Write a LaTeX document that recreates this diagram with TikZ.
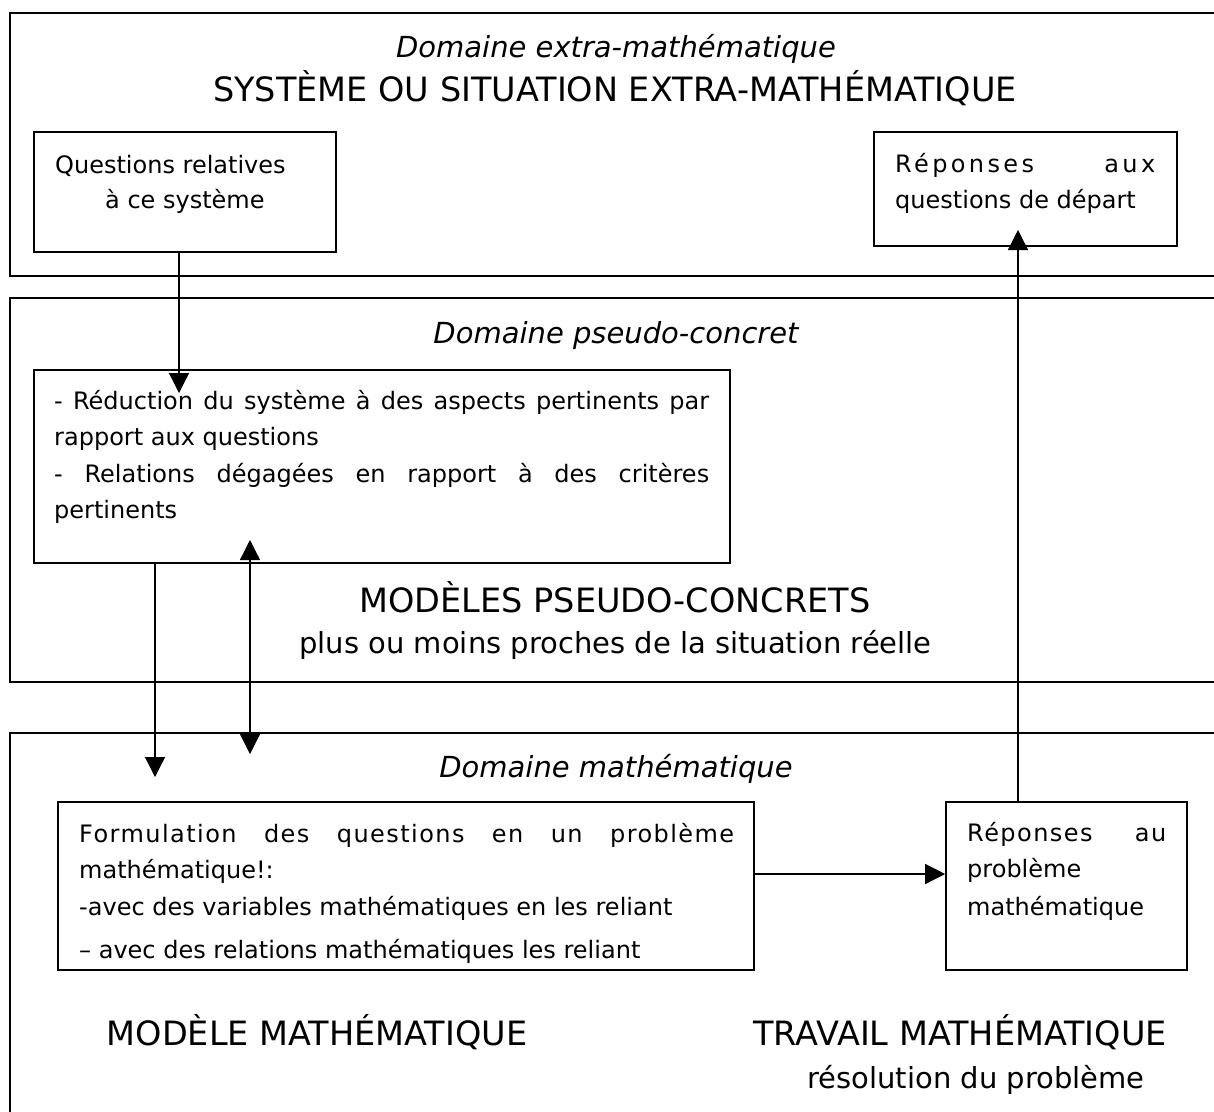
\documentclass[tikz,border=0pt]{standalone}
\usepackage{fontspec}
\setmainfont{DejaVu Sans}
\newfontfamily\spacedA[LetterSpace=14]{DejaVu Sans}
\newfontfamily\spacedB[LetterSpace=6]{DejaVu Sans}
\usetikzlibrary{arrows.meta}
\begin{document}
\begin{tikzpicture}[x=1pt,y=-1pt,
  band/.style={draw, line width=2pt},
  box/.style={draw, line width=1.6pt, rectangle, inner sep=0pt},
  arr/.style={line width=1.3pt, -{Triangle[width=20pt,length=20pt]}},
  arrboth/.style={line width=1.3pt, {Triangle[width=20pt,length=20pt]}-{Triangle[width=20pt,length=20pt]}},
  body/.style={inner sep=0pt, anchor=base west, font=\fontsize{24}{29}\selectfont},
  head/.style={inner sep=0pt, anchor=base, font=\fontsize{29}{35}\selectfont\itshape},
  caps/.style={inner sep=0pt, anchor=base, font=\fontsize{33.5}{40}\selectfont},
  sub/.style={inner sep=0pt, anchor=base, font=\fontsize{29}{35}\selectfont}]

\fill[white] (0,0) rectangle (1214,1111);
\clip (0,0) rectangle (1214,1111);

% domain bands
\draw[band] (1240,13) -- (10,13) -- (10,276) -- (1240,276);
\draw[band] (1240,298) -- (10,298) -- (10,682) -- (1240,682);
\draw[band] (1240,733) -- (10,733) -- (10,1130);

% boxes
\node[box, minimum width=302pt, minimum height=120pt] (Q) at (185,192) {};
\node[box, minimum width=303pt, minimum height=114pt] (R) at (1025.5,189) {};
\node[box, minimum width=696pt, minimum height=193pt] (P) at (382,466.5) {};
\node[box, minimum width=696pt, minimum height=168pt] (F) at (406,886) {};
\node[box, minimum width=241pt, minimum height=168pt] (RP) at (1066.5,886) {};

% headings
\node[head] (h1) at (616,57) {Domaine extra-mathématique};
\node[caps] (t1) at (615,101) {SYSTÈME OU SITUATION EXTRA-MATHÉMATIQUE};
\node[head] (h2) at (616,343) {Domaine pseudo-concret};
\node[caps] (t2) at (615,612) {MODÈLES PSEUDO-CONCRETS};
\node[sub] (t2b) at (615.5,653) {plus ou moins proches de la situation réelle};
\node[head] (h3) at (616,777) {Domaine mathématique};
\node[caps] (t3) at (317,1045) {MODÈLE MATHÉMATIQUE};
\node[caps] (t4) at (960,1045) {TRAVAIL MATHÉMATIQUE};
\node[sub] (t4b) at (976,1088) {résolution du problème};

% box texts
\node[body] (q1) at (55,173) {Questions relatives};
\node[body] (q2) at (105,208) {à ce système};

\node[body] (r1) at (895,172) {\makebox[260pt][s]{\spacedA Réponses aux}};
\node[body] (r2) at (895,208) {questions de départ};

\node[body] (p1) at (54,409) {\makebox[655pt][s]{- Réduction du système à des aspects pertinents par}};
\node[body] (p2) at (54,445) {rapport aux questions};
\node[body] (p3) at (54,482) {\makebox[655pt][s]{- Relations dégagées en rapport à des critères}};
\node[body] (p4) at (54,518) {pertinents};

\node[body] (f1) at (79,842) {\makebox[655pt][s]{\spacedB Formulation des questions en un problème}};
\node[body] (f2) at (79,878) {mathématique!:};
\node[body] (f3) at (79,915) {-avec des variables mathématiques en les reliant};
\node[body] (f4) at (79,958) {– avec des relations mathématiques les reliant};

\node[body] (rp1) at (967,841) {\makebox[199pt][s]{\spacedB Réponses au}};
\node[body] (rp2) at (967,877) {problème};
\node[body] (rp3) at (967,915) {mathématique};

% connectors
\coordinate (a1) at (179,393);
\draw[arr] (Q.south -| a1) -- (a1);
\coordinate (a2) at (1018,230);
\draw[arr] (RP.north -| a2) -- (a2);
\coordinate (a3) at (155,777);
\draw[arr] (P.south -| a3) -- (a3);
\coordinate (a4u) at (250,540);
\coordinate (a4d) at (250,754);
\draw[arrboth] (a4u) -- (a4d);
\coordinate (a5) at (850,874);
\draw[arr] (F.east |- a5) -- (RP.west |- a5);
\end{tikzpicture}
\end{document}
